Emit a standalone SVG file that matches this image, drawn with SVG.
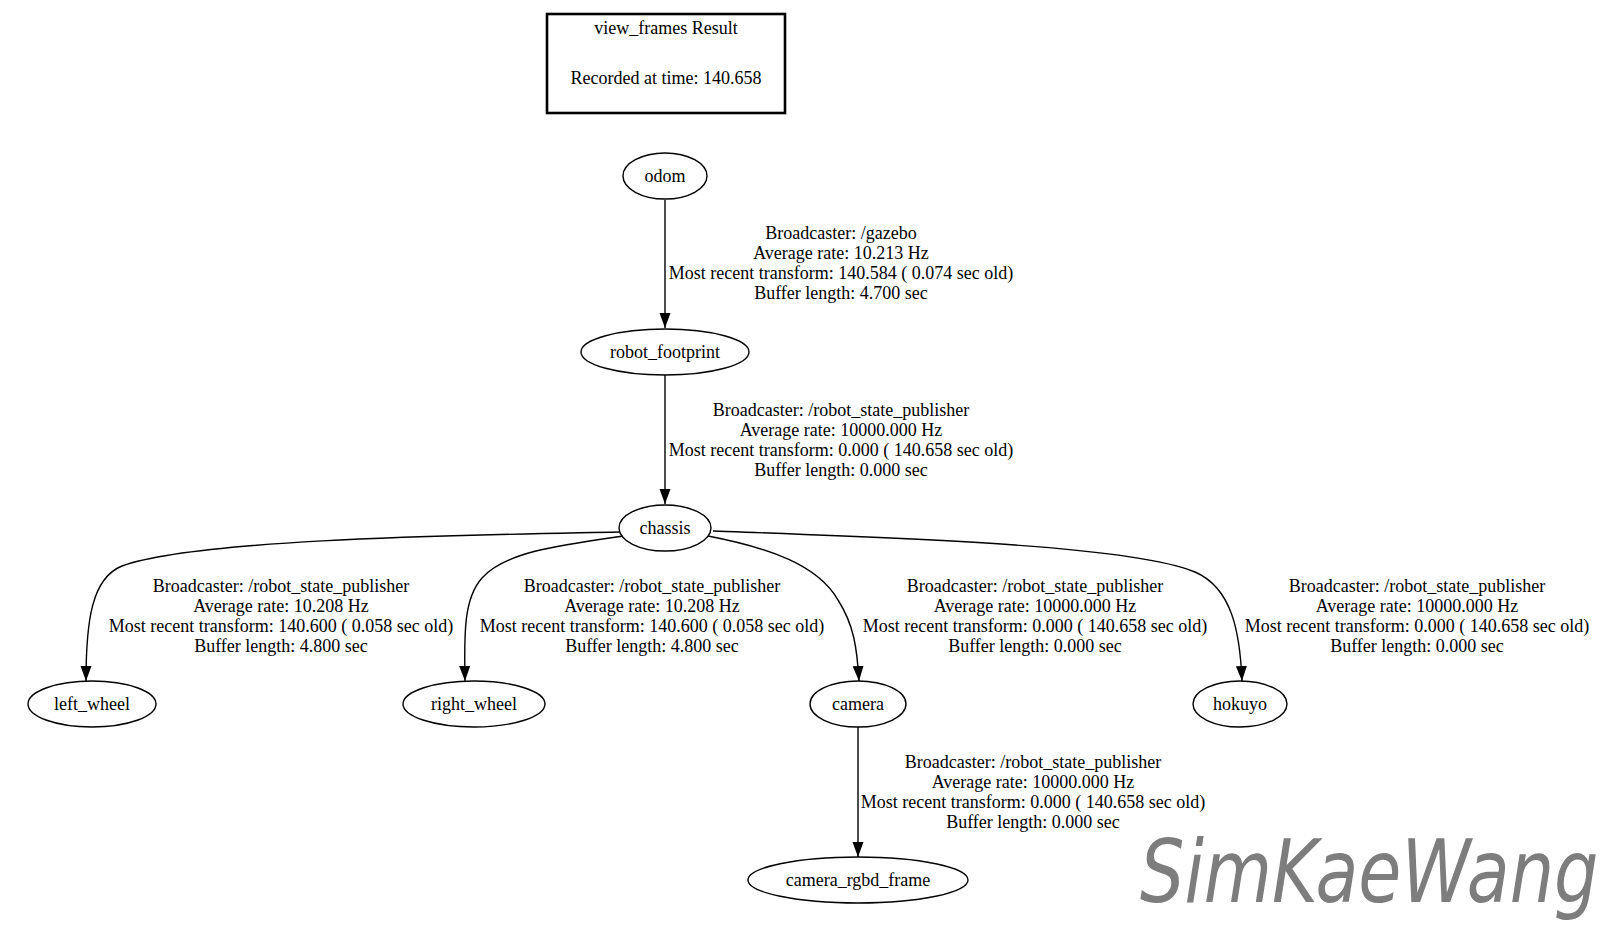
<svg xmlns="http://www.w3.org/2000/svg" width="1624" height="942" viewBox="0 0 1624 942">
<style>
.n{fill:none;stroke:#000;stroke-width:1.4}
.t{font-family:"Liberation Serif","Times New Roman",serif;font-size:18px;fill:#000;text-anchor:middle}
.e{fill:none;stroke:#000;stroke-width:1.4}
.wm{font-family:"DejaVu Sans",sans-serif;font-style:italic;font-size:70px;fill:#7d7d7d}
</style>
<defs>
<marker id="ah" markerUnits="userSpaceOnUse" markerWidth="16" markerHeight="12" refX="15" refY="5.5" orient="auto">
<path d="M0,0 L15,5.5 L0,11 z" fill="#000"/>
</marker>
</defs>
<rect width="1624" height="942" fill="#fff"/>
<g id="title">
<rect x="547" y="14" width="238" height="99" fill="none" stroke="#000" stroke-width="2.6"/>
<text class="t" x="666" y="34">view_frames Result</text>
<text class="t" x="666" y="84">Recorded at time: 140.658</text>
</g>
<g id="connectors">
<path class="e" d="M665,200 L665,328" marker-end="url(#ah)"/>
<path class="e" d="M665,375 L665,504" marker-end="url(#ah)"/>
<path class="e" d="M619,532 C480,535 200,538 122,566 C92,578 86,620 86,681" marker-end="url(#ah)"/>
<path class="e" d="M623,536 C560,545 505,552 482,578 C464,598 464,632 465,681" marker-end="url(#ah)"/>
<path class="e" d="M708,536 C770,548 818,565 838,600 C854,625 857,648 859,681" marker-end="url(#ah)"/>
<path class="e" d="M713,531 C900,538 1130,545 1195,572 C1232,588 1240,632 1242,681" marker-end="url(#ah)"/>
<path class="e" d="M858,727 L858,857" marker-end="url(#ah)"/>
</g>
<g id="edge-labels">
<text class="t" x="841" y="239">Broadcaster: /gazebo</text>
<text class="t" x="841" y="259">Average rate: 10.213 Hz</text>
<text class="t" x="841" y="279">Most recent transform: 140.584 ( 0.074 sec old)</text>
<text class="t" x="841" y="299">Buffer length: 4.700 sec</text>
<text class="t" x="841" y="416">Broadcaster: /robot_state_publisher</text>
<text class="t" x="841" y="436">Average rate: 10000.000 Hz</text>
<text class="t" x="841" y="456">Most recent transform: 0.000 ( 140.658 sec old)</text>
<text class="t" x="841" y="476">Buffer length: 0.000 sec</text>
<text class="t" x="281" y="592">Broadcaster: /robot_state_publisher</text>
<text class="t" x="281" y="612">Average rate: 10.208 Hz</text>
<text class="t" x="281" y="632">Most recent transform: 140.600 ( 0.058 sec old)</text>
<text class="t" x="281" y="652">Buffer length: 4.800 sec</text>
<text class="t" x="652" y="592">Broadcaster: /robot_state_publisher</text>
<text class="t" x="652" y="612">Average rate: 10.208 Hz</text>
<text class="t" x="652" y="632">Most recent transform: 140.600 ( 0.058 sec old)</text>
<text class="t" x="652" y="652">Buffer length: 4.800 sec</text>
<text class="t" x="1035" y="592">Broadcaster: /robot_state_publisher</text>
<text class="t" x="1035" y="612">Average rate: 10000.000 Hz</text>
<text class="t" x="1035" y="632">Most recent transform: 0.000 ( 140.658 sec old)</text>
<text class="t" x="1035" y="652">Buffer length: 0.000 sec</text>
<text class="t" x="1417" y="592">Broadcaster: /robot_state_publisher</text>
<text class="t" x="1417" y="612">Average rate: 10000.000 Hz</text>
<text class="t" x="1417" y="632">Most recent transform: 0.000 ( 140.658 sec old)</text>
<text class="t" x="1417" y="652">Buffer length: 0.000 sec</text>
<text class="t" x="1033" y="768">Broadcaster: /robot_state_publisher</text>
<text class="t" x="1033" y="788">Average rate: 10000.000 Hz</text>
<text class="t" x="1033" y="808">Most recent transform: 0.000 ( 140.658 sec old)</text>
<text class="t" x="1033" y="828">Buffer length: 0.000 sec</text>
</g>
<g id="odom"><ellipse class="n" cx="665" cy="176" rx="42" ry="23"/><text class="t" x="665" y="182">odom</text></g>
<g id="robot_footprint"><ellipse class="n" cx="665" cy="352" rx="84" ry="23"/><text class="t" x="665" y="358">robot_footprint</text></g>
<g id="chassis"><ellipse class="n" cx="665" cy="528" rx="46" ry="23"/><text class="t" x="665" y="534">chassis</text></g>
<g id="left_wheel"><ellipse class="n" cx="92" cy="704" rx="64" ry="23"/><text class="t" x="92" y="710">left_wheel</text></g>
<g id="right_wheel"><ellipse class="n" cx="474" cy="704" rx="71" ry="23"/><text class="t" x="474" y="710">right_wheel</text></g>
<g id="camera"><ellipse class="n" cx="858" cy="704" rx="48" ry="23"/><text class="t" x="858" y="710">camera</text></g>
<g id="hokuyo"><ellipse class="n" cx="1240" cy="704" rx="47" ry="23"/><text class="t" x="1240" y="710">hokuyo</text></g>
<g id="camera_rgbd_frame"><ellipse class="n" cx="858" cy="880" rx="110" ry="23"/><text class="t" x="858" y="886">camera_rgbd_frame</text></g>
<g id="watermark" transform="scale(1,1.25)"><text class="wm" x="1140" y="721.6">SimKaeWang</text></g>
</svg>
